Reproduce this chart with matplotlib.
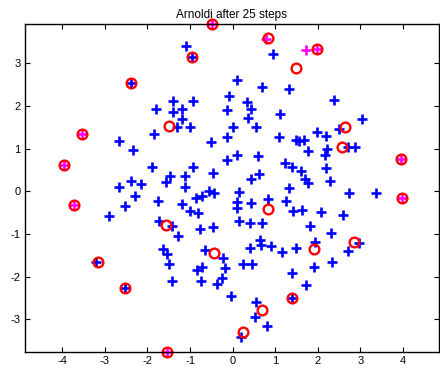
import numpy as np
import matplotlib
matplotlib.use("Agg")
import matplotlib.pyplot as plt

plt.rcParams['font.family'] = ['Liberation Sans', 'DejaVu Sans']
plt.rcParams['axes.unicode_minus'] = False

# eigenvalues of the matrix (blue)
eig_re = [-1.09, -0.96, -2.39, 0.96, 0.11, 0.68, 1.33, 2.39, 3.03, -1.41,
          -0.92, -1.80, -1.40, -1.20, -1.18, -1.30, -1.00, -1.84, -0.51, -0.13,
          0.00, -0.12, -0.08, 0.35, 0.43, 0.37, 1.12, 0.55, 1.09, 1.49,
          1.55, 1.67, 1.98, 2.20, 2.49, 2.72, 2.88, 1.76, 2.22, 2.16,
          0.10, -0.14, 0.60, 1.23, 1.40, 1.61, 2.19, 0.43, 0.63, 1.71,
          1.76, 2.29, 1.33, -2.66, -2.35, -1.90, -0.92, -0.47, -1.46, -1.13,
          -1.56, -2.38, -2.15, -2.66, -1.13, -0.56, 0.14, 2.74, 3.36,
          -2.29, -2.53, -2.91, -1.76, -1.20, -1.01, -0.82, -0.86, -0.72, -0.44,
          -1.72, -1.42, -1.28, -0.76, -0.47, -1.63, -1.55, -1.50, -1.42, -0.64,
          -0.23, -0.17, -0.84, -0.72, -0.75, -0.36, -0.26, -0.04, 0.11, 0.10,
          0.43, 0.82, 1.26, 1.42, 1.63, 2.08, 2.60, 0.14, 0.41, 0.70,
          1.81, 2.31, 0.65, 0.66, 0.90, 0.40, 1.15, 1.49, 1.94, 2.97,
          2.72, 2.33, 0.24, 0.45, 1.40, 1.91, 1.72, 1.39, 0.55, 0.52,
          0.80, 0.20, -3.22, -2.53]
eig_im = [3.41, 3.15, 2.54, 3.21, 2.61, 2.44, 2.39, 2.14, 1.69, 2.12,
          2.12, 1.94, 1.86, 1.93, 1.69, 1.50, 1.50, 1.35, 1.16, 1.28,
          1.50, 1.91, 2.23, 2.09, 1.94, 1.71, 1.82, 1.50, 1.28, 1.21,
          1.17, 1.21, 1.39, 1.30, 1.45, 1.04, 1.04, 0.95, 0.99, 0.85,
          0.86, 0.74, 0.82, 0.66, 0.56, 0.48, 0.54, 0.30, 0.41, 0.30,
          0.19, 0.24, 0.08, 1.19, 0.96, 0.57, 0.57, 0.43, 0.37, 0.35,
          0.22, 0.25, 0.17, 0.09, 0.09, 0.01, -0.01, -0.03, -0.03,
          -0.12, -0.34, -0.58, -0.22, -0.29, -0.45, -0.52, -0.15, -0.11, -0.05,
          -0.70, -0.82, -1.04, -0.89, -0.84, -1.36, -1.46, -1.70, -2.10, -1.38,
          -1.56, -1.79, -1.85, -1.77, -2.11, -2.18, -2.02, -2.45, -0.25, -0.39,
          -0.28, -0.18, -0.23, -0.47, -0.44, -0.49, -0.56, -0.69, -0.74, -0.74,
          -0.81, -0.98, -1.14, -1.27, -1.28, -1.32, -1.43, -1.32, -1.18, -1.22,
          -1.39, -1.65, -1.70, -1.70, -1.92, -1.78, -2.20, -2.51, -2.60, -2.95,
          -3.15, -3.41, -1.66, -2.26]

# magenta points
mag_re = [-0.49, 0.78, 1.72, 1.99, -3.53, -3.95, 3.96, 3.98, -3.73, -1.55]
mag_im = [3.92, 3.56, 3.31, 3.33, 1.34, 0.62, 0.75, -0.15, -0.32, -3.77]

# Ritz values after 25 steps (red circles)
ritz_re = [-0.49, -0.96, 0.83, 1.99, 1.49, -2.39, -3.53, -3.95, -1.49, 2.64,
           2.56, 3.96, 3.98, -3.73, -1.56, -0.43, -3.17, -2.53, 0.82, 1.92,
           2.85, 1.39, 0.70, 0.24, -1.55]
ritz_im = [3.92, 3.15, 3.59, 3.33, 2.90, 2.54, 1.34, 0.62, 1.53, 1.50,
           1.05, 0.75, -0.15, -0.32, -0.80, -1.45, -1.66, -2.26, -0.41, -1.36,
           -1.18, -2.51, -2.79, -3.29, -3.77]

fig = plt.figure(figsize=(4.4, 3.69), dpi=100)
ax = fig.add_axes([25 / 440, 1 - 352.3 / 369, 413.5 / 440, 328.3 / 369])

ax.plot(eig_re, eig_im, '+', color=(0, 0, 1), ms=6.8, mew=1.9, clip_on=False)
ax.plot(mag_re, mag_im, '+', color=(1, 0, 1), ms=6.8, mew=1.9, clip_on=False)
ax.plot(ritz_re, ritz_im, 'o', mfc='none', mec=(1, 0, 0), ms=7.0, mew=1.7, clip_on=False)

ax.set_xlim(-4.877, 4.837)
ax.set_ylim(-3.773, 3.921)
ax.set_xticks(np.arange(-4, 5))
ax.set_yticks(np.arange(-3, 4))
ax.tick_params(direction='in', top=True, right=True, length=3.5, width=0.8,
               labelsize=8, pad=3)
for s in ax.spines.values():
    s.set_linewidth(1.0)
ax.set_title('Arnoldi after 25 steps', fontsize=8.5, pad=4)

fig.savefig('out.png', dpi=100)
